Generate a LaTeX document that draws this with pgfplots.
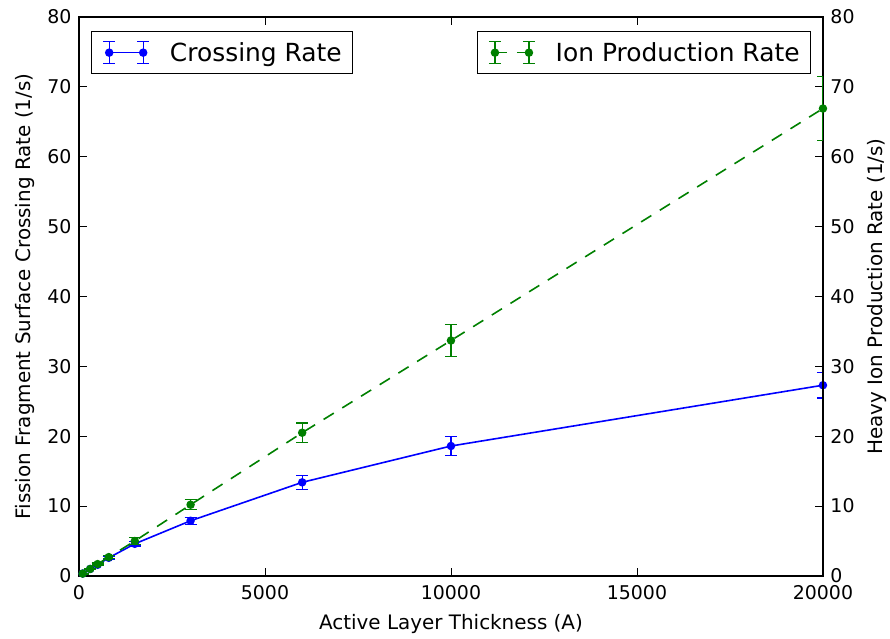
\documentclass[border=0pt]{standalone}
\usepackage{fontspec}
\setmainfont{DejaVu Sans}
\usepackage{pgfplots}
\pgfplotsset{compat=1.18}
\definecolor{mblue}{rgb}{0,0,1}
\definecolor{mgreen}{rgb}{0,0.5,0}
\pgfplotsset{
  common/.style={
    width=744bp, height=559bp, scale only axis,
    xmin=0, xmax=20000, ymin=0, ymax=80,
    xtick={0,5000,10000,15000,20000},
    ytick={0,10,...,80},
    scaled x ticks=false,
    /pgf/number format/assume math mode=true,
    /pgf/number format/1000 sep={},
    tick align=inside,
    major tick length=8bp,
    tick style={black, line width=0.8bp},
    axis line style={line width=1.3bp},
    ticklabel style={font=\fontsize{19}{22}\selectfont},
    yticklabel shift=4bp,
    xticklabel shift=6bp,
    label style={font=\fontsize{20}{23}\selectfont},
    legend style={font=\fontsize{25}{28}\selectfont, draw=black, line width=1bp, inner xsep=9bp, inner ysep=9bp},
    legend cell align=left,
    legend image code/.code={
      \draw[solid, mark=none, line width=1.3bp] (0bp,-11bp) -- (0bp,11bp) (-6bp,-11bp) -- (6bp,-11bp) (-6bp,11bp) -- (6bp,11bp);
      \draw[solid, mark=none, line width=1.3bp] (34bp,-11bp) -- (34bp,11bp) (28bp,-11bp) -- (40bp,-11bp) (28bp,11bp) -- (40bp,11bp);
      \draw plot coordinates {(0bp,0bp) (34bp,0bp)};
      \path (-8bp,0bp) (58bp,0bp);
    },
  },
}
\begin{document}
\begin{tikzpicture}
\begin{axis}[common,
  xtick pos=both, ytick pos=left,
  xlabel={Active Layer Thickness (A)},
  ylabel={Fission Fragment Surface Crossing Rate (1/s)},
  xlabel style={yshift=-8bp},
  ylabel style={yshift=6bp},
  legend style={at={(0.016,0.975)}, anchor=north west},
]
\addplot[mblue, line width=1.6bp, mark=*, mark size=3.4bp,
  error bars/.cd, y dir=both, y explicit, error bar style={line width=1.3bp}, error mark options={rotate=90, mark size=6bp, line width=1.3bp}]
  table[x=x, y=y, y error=e] {
x y e
100 0.35 0.05
300 1.0 0.1
500 1.6 0.12
800 2.6 0.18
1500 4.6 0.3
3000 7.9 0.5
6000 13.4 1.0
10000 18.6 1.4
20000 27.3 1.85
};
\addlegendentry{Crossing Rate}
\end{axis}
\begin{axis}[common,
  axis x line=none, axis y line*=right,
  ytick pos=right,
  ylabel={Heavy Ion Production Rate (1/s)},
  ylabel style={yshift=-6bp},
  legend style={at={(0.984,0.975)}, anchor=north east},
]
\addplot[mgreen, line width=1.6bp, dash pattern=on 12bp off 10bp, mark=*, mark size=3.4bp, mark options={solid},
  error bars/.cd, y dir=both, y explicit, error bar style={line width=1.3bp, solid}, error mark options={rotate=90, mark size=6bp, line width=1.3bp, solid}]
  table[x=x, y=y, y error=e] {
x y e
100 0.34 0.05
300 1.0 0.1
500 1.7 0.15
800 2.7 0.2
1500 5.0 0.5
3000 10.2 0.7
6000 20.5 1.4
10000 33.7 2.3
20000 66.9 4.6
};
\addlegendentry{Ion Production Rate}
\end{axis}
\path[use as bounding box] (current axis.south west) ++(-79bp,-63bp) rectangle ([xshift=67bp,yshift=17bp]current axis.north east);
\end{tikzpicture}
\end{document}
